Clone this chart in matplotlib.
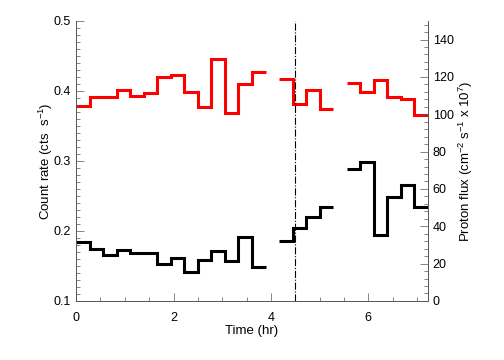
import numpy as np
import matplotlib
matplotlib.use("Agg")
import matplotlib.pyplot as plt
from matplotlib.ticker import MultipleLocator

plt.rcParams['font.family'] = ['Liberation Sans', 'DejaVu Sans']
plt.rcParams['mathtext.default'] = 'regular'

# 1000 s bins, time in hours
bin_sec = 1000.0
nan = np.nan
# count rate (cts/s), red, left axis
count_rate = [0.378, 0.392, 0.391, 0.401, 0.393, 0.397, 0.420, 0.423, 0.399, 0.377,
              0.445, 0.369, 0.410, 0.427, nan, 0.417, 0.381, 0.401, 0.374, nan,
              0.411, 0.398, 0.415, 0.391, 0.388, 0.365]
# proton flux (cm^-2 s^-1 x 1e7), black, right axis
proton_flux = [31.4, 27.9, 24.6, 27.3, 25.7, 25.9, 19.8, 23.0, 15.7, 22.0,
               26.6, 21.4, 34.5, 18.0, nan, 32.3, 38.9, 44.8, 50.5, nan,
               70.7, 74.6, 35.4, 55.9, 62.1, 50.2]
event_time = 4.5

edges = np.arange(len(count_rate) + 1) * bin_sec / 3600.0


def draw_segments(ax, vals, color):
    vals = np.asarray(vals, dtype=float)
    i = 0
    n = len(vals)
    while i < n:
        if np.isnan(vals[i]):
            i += 1
            continue
        j = i
        while j < n and not np.isnan(vals[j]):
            j += 1
        ax.stairs(vals[i:j], edges[i:j + 1], baseline=None, color=color, lw=2.2)
        i = j


fig = plt.figure(figsize=(5.04, 3.6), dpi=100)
ax = fig.add_axes([0.151, 0.164, 0.698, 0.778])
ax2 = ax.twinx()

draw_segments(ax, count_rate, '#ff0000')
draw_segments(ax2, proton_flux, 'black')
ax.axvline(event_time, color='black', lw=0.8, ls='-.')

ax.set_xlim(0, edges[-1])
ax.set_ylim(0.1, 0.5)
ax2.set_ylim(0, 150)

ax.xaxis.set_major_locator(MultipleLocator(2))
ax.xaxis.set_minor_locator(MultipleLocator(0.5))
ax.yaxis.set_major_locator(MultipleLocator(0.1))
ax.yaxis.set_minor_locator(MultipleLocator(0.01))
ax2.yaxis.set_major_locator(MultipleLocator(20))
ax2.yaxis.set_minor_locator(MultipleLocator(4))
ax.yaxis.set_major_formatter(plt.FormatStrFormatter('%.1f'))

for a in (ax, ax2):
    a.spines['top'].set_visible(False)
    for s in a.spines.values():
        s.set_linewidth(0.6)
        s.set_color('#555555')
    a.tick_params(which='both', direction='in', labelsize=9, width=0.5, color='#555555')
    a.tick_params(which='major', length=6)
    a.tick_params(which='minor', length=3)
ax.tick_params(axis='x', which='major', pad=8)

ax.set_xlabel('Time (hr)', fontsize=9.5, labelpad=1)
ax.set_ylabel('Count rate (cts  s$^{-1}$)', fontsize=9.5, labelpad=-1)
ax2.set_ylabel('Proton flux (cm$^{-2}$ s$^{-1}$ x 10$^{7}$)', fontsize=9.5, labelpad=2)

fig.savefig('out.png', dpi=100)
